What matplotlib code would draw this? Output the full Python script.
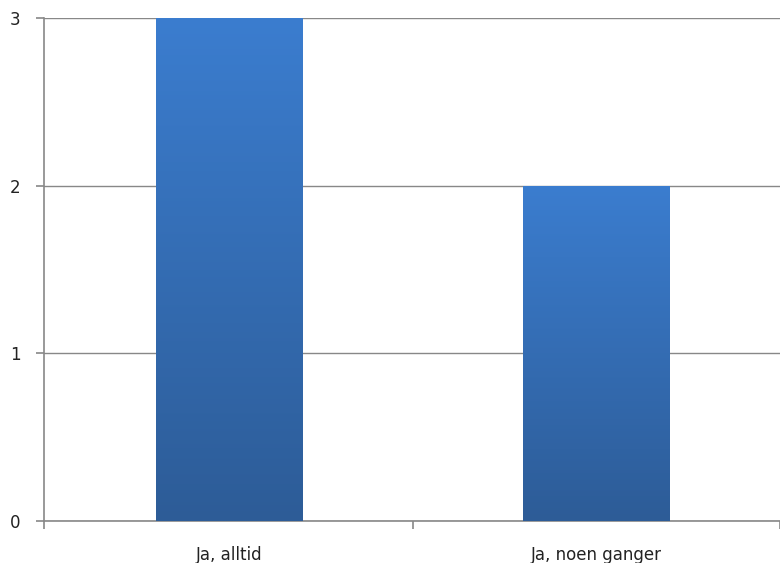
import matplotlib.pyplot as plt
import numpy as np
from matplotlib.colors import LinearSegmentedColormap

categories = ["Ja, alltid", "Ja, noen ganger"]
values = [3, 2]

fig = plt.figure(figsize=(7.8, 5.63), dpi=100)
ax = fig.add_axes([44 / 780, 42 / 563, (780 - 44) / 780, (521 - 18) / 563])

x = np.arange(len(categories))
bars = ax.bar(x, values, width=0.4, color="none", zorder=3)

# vertical gradient like the Excel bars
cmap = LinearSegmentedColormap.from_list("bar", ["#2d5c97", "#3b7dcf"])
grad = np.linspace(0, 1, 256).reshape(-1, 1)
for b in bars:
    x0, y0 = b.get_x(), b.get_y()
    w, h = b.get_width(), b.get_height()
    im = ax.imshow(grad, cmap=cmap, origin="lower", aspect="auto",
                   extent=[x0, x0 + w, y0, y0 + h], zorder=3)
    im.set_clip_path(b)

left = (44 - 231) / 370
ax.set_xlim(left, (780 - 231) / 370)
ax.set_ylim(0, 3)
ax.set_yticks([0, 1, 2, 3])
ax.set_xticks(x)
ax.set_xticklabels(categories)
ax.set_xticks([left, 0.5, 1.5], minor=True)

ax.yaxis.grid(True, color="#888888", linewidth=1.0, zorder=1)
ax.set_axisbelow(True)

for s in ["top", "right"]:
    ax.spines[s].set_visible(False)
for s in ["left", "bottom"]:
    ax.spines[s].set_color("#888888")
    ax.spines[s].set_linewidth(1.2)

ax.tick_params(axis="y", length=6, width=1.2, color="#888888", pad=11,
               labelsize=12, labelcolor="#222222")
ax.tick_params(axis="x", which="major", length=0, pad=18,
               labelsize=12, labelcolor="#222222")
ax.tick_params(axis="x", which="minor", length=6, width=1.2, color="#888888")

fig.savefig("out.png", dpi=100)
